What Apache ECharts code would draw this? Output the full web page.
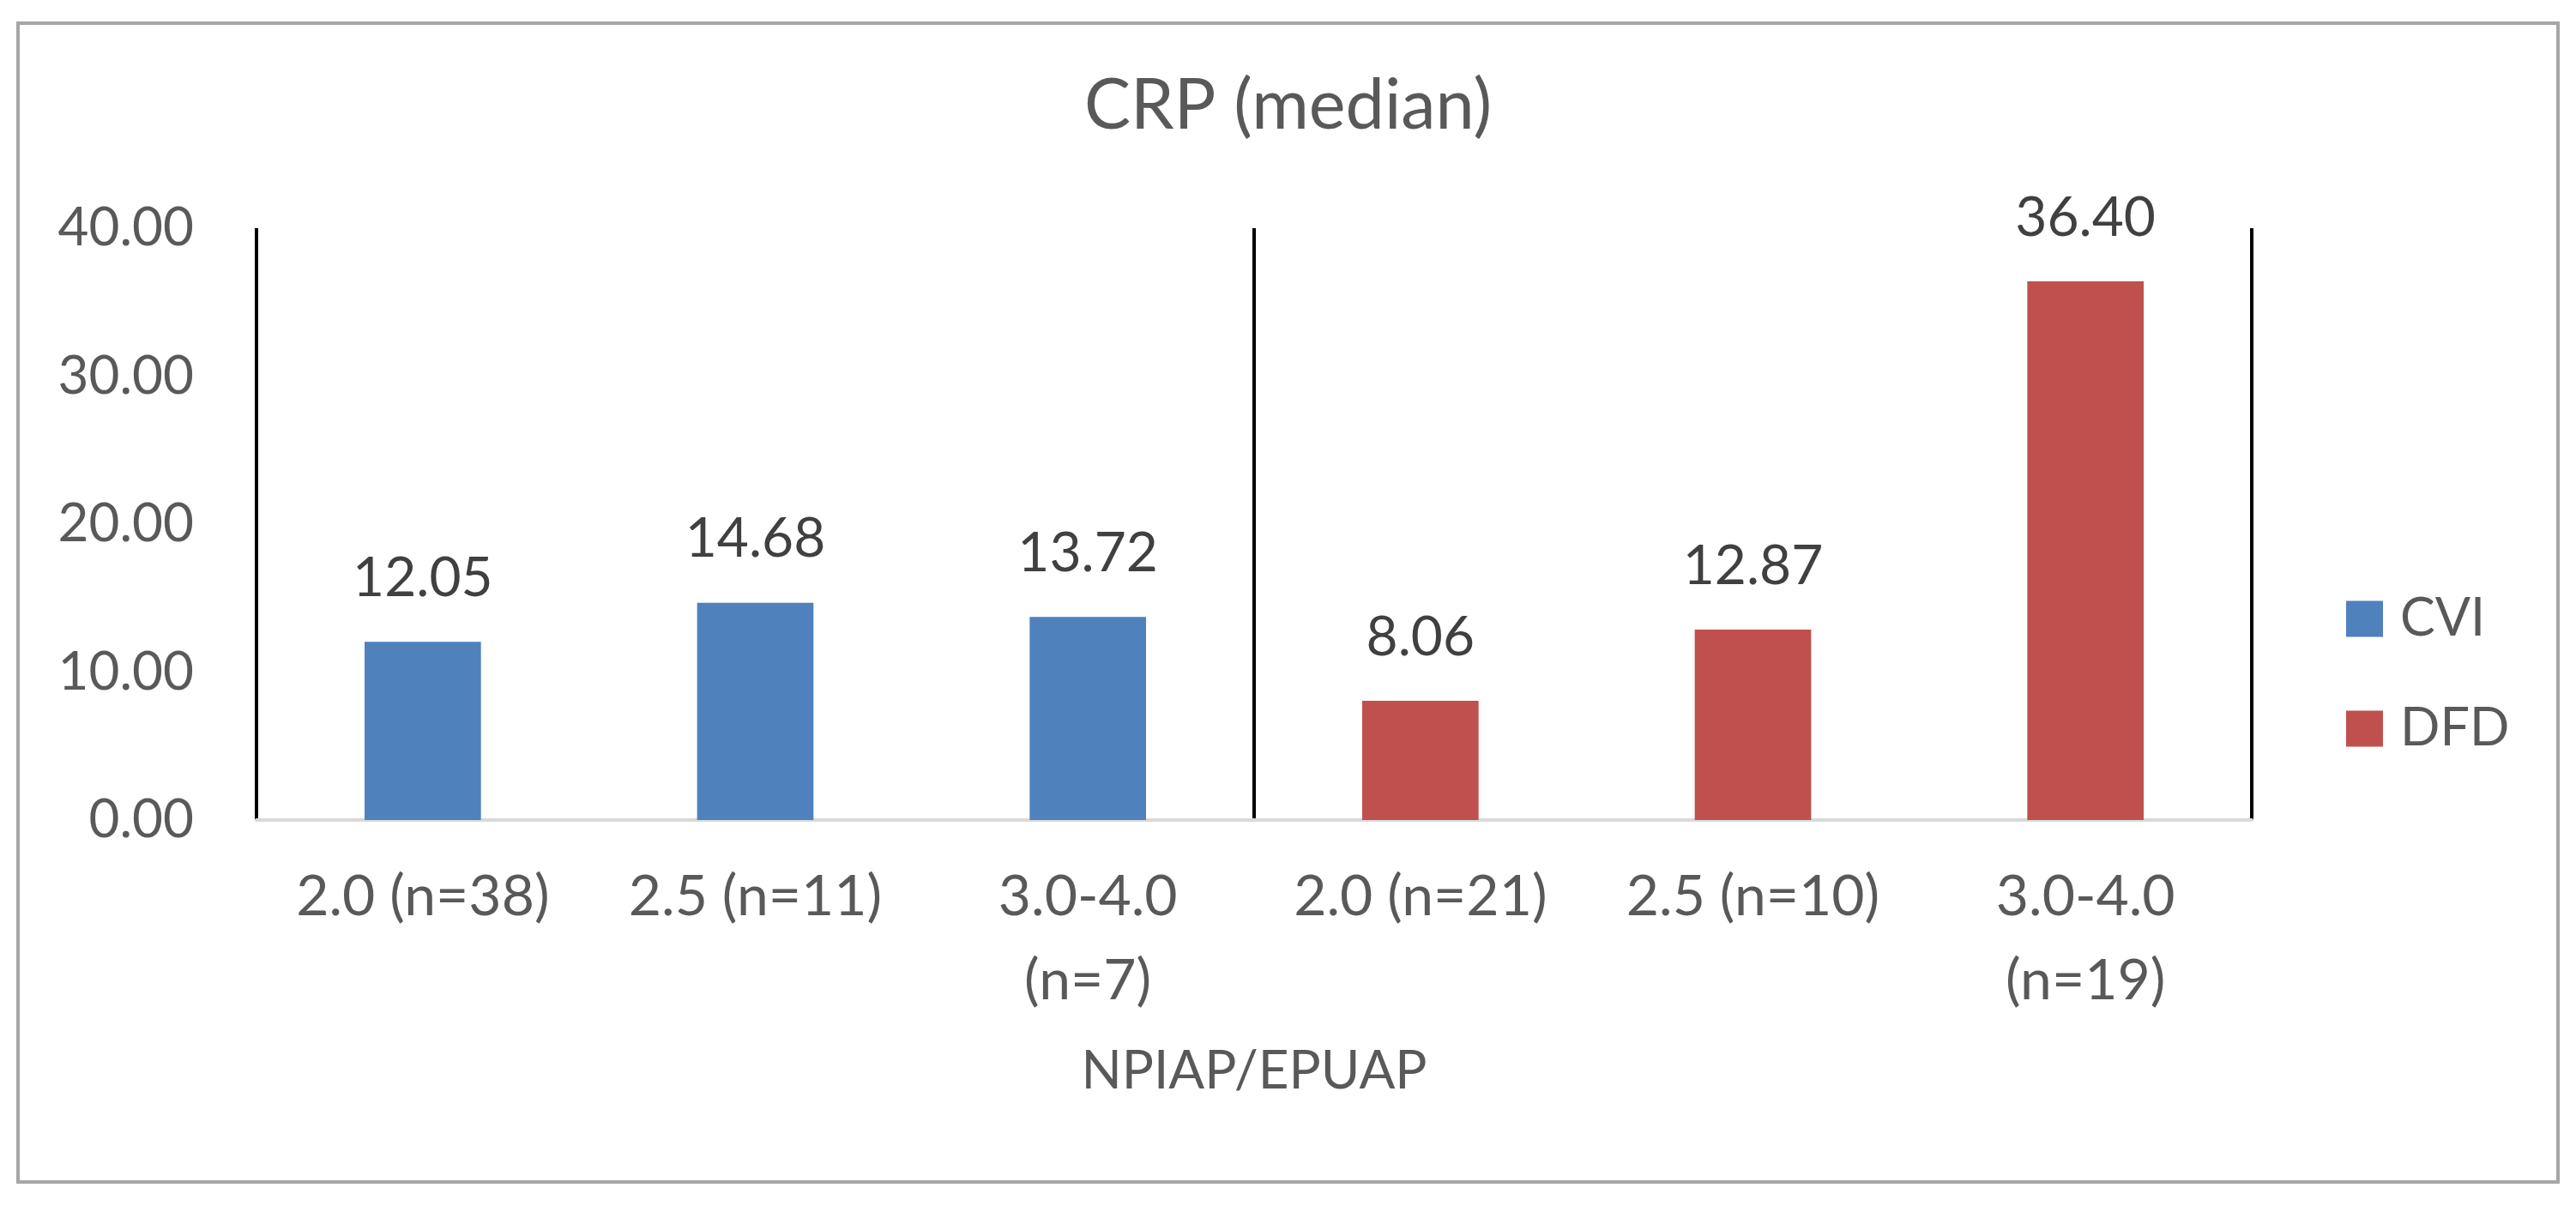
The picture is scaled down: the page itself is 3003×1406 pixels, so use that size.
<!DOCTYPE html>
<html>
<head>
<meta charset="utf-8">
<script src="https://cdn.jsdelivr.net/npm/echarts@6/dist/echarts.min.js"></script>
<style>
html,body{margin:0;padding:0;background:#fff;}
#chart{width:3003px;height:1406px;}
</style>
</head>
<body>
<div id="chart"></div>
<script>
var categories = ['2.0 (n=38)', '2.5 (n=11)', '3.0-4.0 (n=7)', '2.0 (n=21)', '2.5 (n=10)', '3.0-4.0 (n=19)'];
var cviValues = [12.05, 14.68, 13.72, null, null, null];
var dfdValues = [null, null, null, 8.06, 12.87, 36.40];
var yTicks = [0, 10, 20, 30, 40];
var groupBoundaries = [0, 3, 6];

var FONT = 'Lato';
var chart = echarts.init(document.getElementById('chart'));
var labelStyle = {
  show: true,
  position: 'top',
  distance: 42,
  color: '#404040',
  fontFamily: FONT,
  fontSize: 64,
  formatter: function (p) { return p.value == null ? '' : p.value.toFixed(2); }
};
chart.setOption({
  animation: false,
  backgroundColor: '#ffffff',
  title: {
    text: 'CRP (median)',
    left: 'center',
    top: 83,
    padding: [0, 20, 0, 0],
    textStyle: { color: '#595959', fontFamily: FONT, fontSize: 81, fontWeight: 'normal' }
  },
  legend: {
    orient: 'vertical',
    left: 2730,
    top: 686,
    itemWidth: 43,
    itemHeight: 42,
    itemGap: 67,
    icon: 'rect',
    data: ['CVI', 'DFD'],
    textStyle: { color: '#595959', fontFamily: FONT, fontSize: 61, padding: [0, 0, 0, 15] }
  },
  grid: { left: 299, right: 378, top: 266, bottom: 450, containLabel: false },
  xAxis: [{
    type: 'category',
    data: categories,
    name: 'NPIAP/EPUAP',
    nameLocation: 'middle',
    nameGap: 262,
    nameTextStyle: { color: '#595959', fontFamily: FONT, fontSize: 62 },
    axisLine: { show: true, lineStyle: { color: '#d9d9d9', width: 4 } },
    axisTick: { show: false },
    axisLabel: {
      color: '#595959',
      fontFamily: FONT,
      fontSize: 66,
      lineHeight: 98,
      margin: 41,
      interval: 0,
      formatter: function (v) { return v.indexOf('-') > -1 ? v.replace(' (', '\n(') : v; }
    },
    splitLine: { show: false }
  }, {
    type: 'value',
    min: groupBoundaries[0],
    max: groupBoundaries[groupBoundaries.length - 1],
    interval: groupBoundaries[1] - groupBoundaries[0],
    position: 'top',
    axisLine: { show: false },
    axisTick: { show: false },
    axisLabel: { show: false },
    splitLine: { show: true, lineStyle: { color: '#000000', width: 4 } }
  }],
  yAxis: {
    type: 'value',
    min: yTicks[0],
    max: yTicks[yTicks.length - 1],
    interval: yTicks[1] - yTicks[0],
    axisLine: { show: false },
    axisTick: { show: false },
    splitLine: { show: false },
    axisLabel: {
      color: '#595959',
      fontFamily: FONT,
      fontSize: 62,
      margin: 73,
      formatter: function (v) { return v.toFixed(2); }
    }
  },
  series: [{
    name: 'CVI',
    type: 'bar',
    xAxisIndex: 0,
    data: cviValues,
    barWidth: '35%',
    barGap: '-100%',
    itemStyle: { color: '#4f81bd' },
    label: labelStyle
  }, {
    name: 'DFD',
    type: 'bar',
    xAxisIndex: 0,
    data: dfdValues,
    barWidth: '35%',
    barGap: '-100%',
    itemStyle: { color: '#c0504d' },
    label: labelStyle
  }],
  graphic: [{
    type: 'rect',
    z: -10,
    silent: true,
    shape: { x: 21, y: 27, width: 2961, height: 1351 },
    style: { fill: 'none', stroke: '#a6a6a6', lineWidth: 4 }
  }]
});
</script>
</body>
</html>
